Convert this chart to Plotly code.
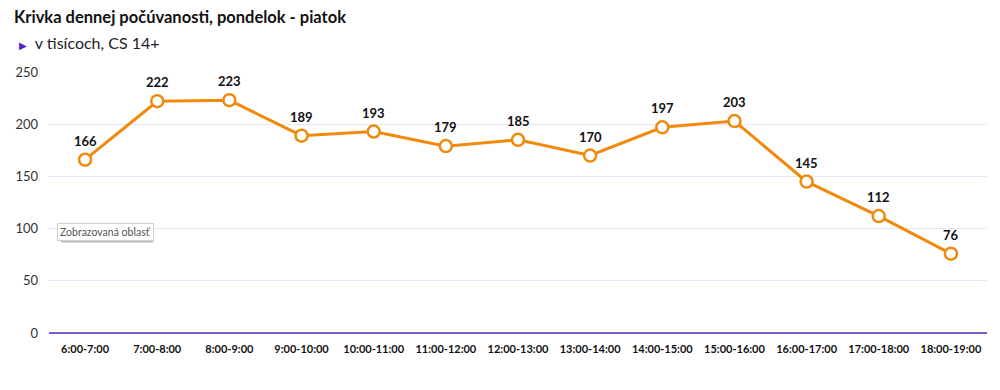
import plotly.graph_objects as go

categories = ["6:00-7:00", "7:00-8:00", "8:00-9:00", "9:00-10:00", "10:00-11:00",
              "11:00-12:00", "12:00-13:00", "13:00-14:00", "14:00-15:00",
              "15:00-16:00", "16:00-17:00", "17:00-18:00", "18:00-19:00"]
values = [166, 222, 223, 189, 193, 179, 185, 170, 197, 203, 145, 112, 76]
y_ticks = [0, 50, 100, 150, 200, 250]

ORANGE = "#f08a0c"
FONT = "Lato, 'Open Sans', sans-serif"
PLOT_W = 1000 - 41 - 21

fig = go.Figure()
fig.add_trace(go.Scatter(
    x=categories, y=values, mode="lines+markers",
    line=dict(color=ORANGE, width=3),
    marker=dict(size=12, color="white", line=dict(color=ORANGE, width=2.5)),
    cliponaxis=False, showlegend=False, hoverinfo="skip",
))

annotations = [
    dict(x=c, y=v, text=f"<b>{v}</b>", xref="x", yref="y", showarrow=False,
         yanchor="middle", yshift=19,
         font=dict(family=FONT, size=13, color="#111111"))
    for c, v in zip(categories, values)
]

tip_x = (49 - 41) / PLOT_W
annotations += [
    dict(text="<b>Krivka dennej počúvanosti, pondelok - piatok</b>",
         xref="paper", yref="paper", x=(4 - 41) / PLOT_W, y=1.0,
         xanchor="left", yanchor="bottom", yshift=43, showarrow=False,
         font=dict(family=FONT, size=16.5, color="#111111")),
    dict(text="<span style='color:#5a1fd1;font-size:10px'>▶</span>  v tisícoch, CS 14+",
         xref="paper", yref="paper", x=(9 - 41) / PLOT_W, y=1.0,
         xanchor="left", yanchor="bottom", yshift=18, showarrow=False,
         font=dict(family=FONT, size=16, color="#222222")),
    dict(text="Zobrazovaná oblasť", xref="paper", yref="y",
         x=tip_x, y=100, xanchor="left", yanchor="middle",
         yshift=-3, showarrow=False, bgcolor="white", bordercolor="#d0d0d0",
         borderwidth=1, borderpad=2,
         font=dict(family=FONT, size=10.5, color="#555555")),
]

shapes = [
    dict(type="rect", xref="paper", yref="y", xsizemode="pixel", ysizemode="pixel",
         xanchor=tip_x, yanchor=100, x0=4, x1=96, y0=-14, y1=1,
         fillcolor="#bdbdbd", line=dict(width=0), layer="above"),
]

fig.update_layout(
    width=1000, height=390,
    margin=dict(l=41, r=21, t=64, b=65),
    paper_bgcolor="white", plot_bgcolor="white",
    font=dict(family=FONT),
    xaxis=dict(type="category", range=[-0.5, 12.5], showgrid=False,
               showline=False, ticks="", ticklabelstandoff=8, automargin=False,
               tickfont=dict(family=FONT, size=11, color="#111111", weight="bold")),
    yaxis=dict(range=[0, 250], tickvals=y_ticks, showgrid=True,
               gridcolor="#e7e4f7", gridwidth=1, zeroline=True,
               zerolinecolor="#7b5cc4", zerolinewidth=1.5, automargin=False,
               ticks="", ticklabelstandoff=10,
               tickfont=dict(family=FONT, size=13, color="#333333")),
    annotations=annotations,
    shapes=shapes,
)

fig.write_html("out.html")
